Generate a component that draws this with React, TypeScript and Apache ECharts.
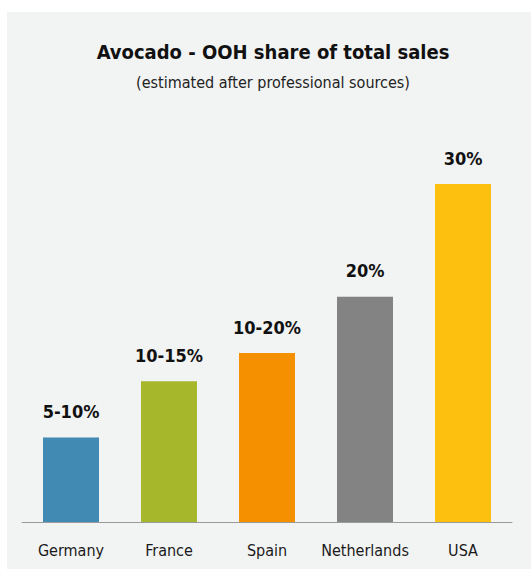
import React, { useEffect, useRef } from "react";
import * as echarts from "echarts";

const categories = ["Germany", "France", "Spain", "Netherlands", "USA"];
const values = [7.5, 12.5, 15, 20, 30];
const valueLabels = ["5-10%", "10-15%", "10-20%", "20%", "30%"];
const barColors = ["#418ab3", "#a6b72b", "#f59100", "#838383", "#fdc00f"];

const FONT = "'Liberation Sans Narrow', 'DejaVu Sans Condensed', 'Roboto', sans-serif";

export default function App() {
  const ref = useRef<HTMLDivElement>(null);
  useEffect(() => {
    document.body.style.margin = "0";
    const chart = echarts.init(ref.current!, null, { renderer: "svg" });
    chart.setOption({
      animation: false,
      backgroundColor: "#ffffff",
      graphic: [
        {
          type: "rect",
          shape: { x: 7, y: 12, width: 524, height: 557 },
          style: { fill: "#f2f3f3" },
          z: -10,
          silent: true,
        },
      ],
      title: {
        text: "Avocado - OOH share of total sales",
        subtext: "(estimated after professional sources)",
        left: 268,
        textAlign: "center",
        top: 37,
        itemGap: 12,
        textStyle: { fontFamily: FONT, fontWeight: "bold", fontSize: 20, color: "#111" },
        subtextStyle: { fontFamily: FONT, fontSize: 16, color: "#222" },
      },
      grid: { left: 22, right: 19, top: 184, bottom: 49 },
      xAxis: {
        type: "category",
        data: categories,
        axisLine: { lineStyle: { color: "#9a9a9a", width: 1 } },
        axisTick: { show: false },
        axisLabel: { fontFamily: FONT, fontSize: 16, color: "#1a1a1a", margin: 20, interval: 0 },
      },
      yAxis: {
        type: "value",
        min: 0,
        max: 30,
        show: false,
        splitLine: { show: false },
      },
      series: [
        {
          type: "bar",
          barWidth: 56,
          data: values.map((v, i) => ({ value: v, itemStyle: { color: barColors[i] } })),
          label: {
            show: true,
            position: "top",
            distance: 17,
            formatter: (p: any) => valueLabels[p.dataIndex],
            fontFamily: FONT,
            fontWeight: "bold",
            fontSize: 18,
            color: "#111",
          },
        },
      ],
    });
    return () => chart.dispose();
  }, []);
  return <div ref={ref} style={{ width: 531, height: 571 }} />;
}
